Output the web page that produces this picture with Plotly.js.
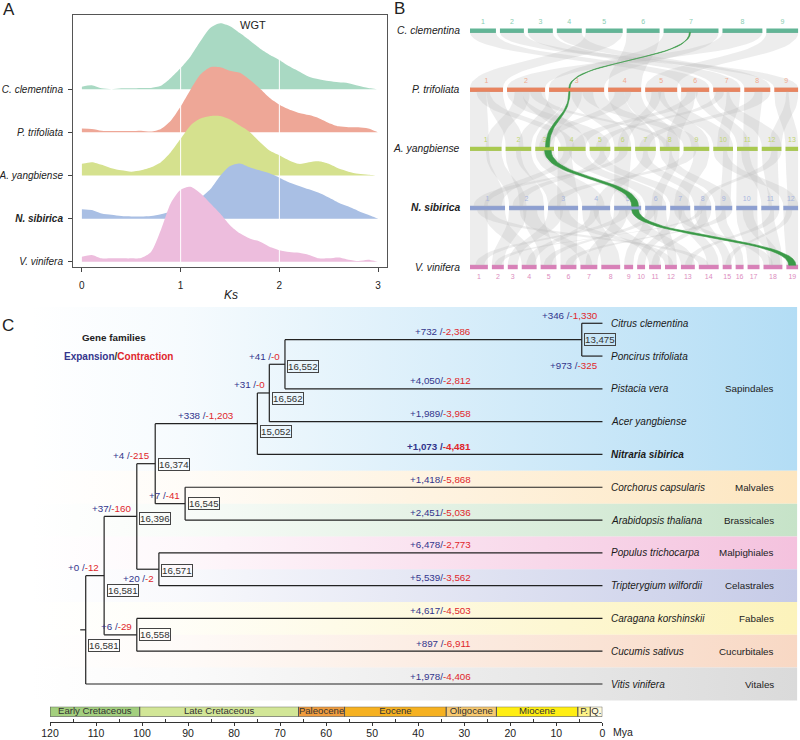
<!DOCTYPE html>
<html><head><meta charset="utf-8">
<script src="https://cdn.plot.ly/plotly-3.0.1.min.js"></script>
<style>body{margin:0;padding:0;background:#fff}#chart{width:800px;height:740px}</style>
</head><body><div id="chart"></div>
<script>
// ================= DATA =================
// ---- Panel A: Ks density ridges ----
const ksValues = [0,0.1,0.2,0.3,0.4,0.5,0.6,0.7,0.8,0.9,1,1.1,1.2,1.3,1.4,1.5,1.6,1.7,1.8,1.9,2,2.1,2.2,2.3,2.4,2.5,2.6,2.7,2.8,2.9,3];
const ridgeSpecies = ['C. clementina','P. trifoliata','A. yangbiense','N. sibirica','V. vinifera'];
const densCc = [0.06,0.09,0.02,0,0.02,0.02,0.03,0.03,0.08,0.26,0.49,0.76,1.11,1.42,1.53,1.46,1.30,1.13,0.95,0.80,0.68,0.53,0.41,0.29,0.23,0.19,0.16,0.14,0.08,0.03,0];
const densPt = [0.09,0.08,0.04,0.03,0.03,0.03,0.04,0.02,0.08,0.27,0.60,0.99,1.34,1.51,1.51,1.43,1.38,1.22,1.02,0.80,0.64,0.53,0.45,0.40,0.33,0.22,0.14,0.12,0.12,0.09,0];
const densAy = [0.27,0.31,0.25,0.17,0.12,0.09,0.12,0.19,0.31,0.54,0.85,1.16,1.32,1.38,1.38,1.30,1.16,1.01,0.78,0.58,0.47,0.35,0.27,0.31,0.33,0.27,0.16,0.09,0.04,0.02,0];
const densNs = [0.22,0.20,0.12,0.09,0.06,0.05,0.05,0.06,0.10,0.16,0.23,0.35,0.48,0.68,0.99,1.22,1.28,1.19,1.12,1.05,0.95,0.84,0.76,0.68,0.60,0.49,0.37,0.28,0.18,0.09,0];
const densVv = [0.12,0.16,0.08,0.08,0.08,0.08,0.09,0.23,0.74,1.36,1.67,1.74,1.59,1.36,1.12,0.85,0.66,0.54,0.47,0.35,0.27,0.23,0.21,0.16,0.08,0.08,0.10,0.05,0.02,0.05,0];
const ksTicks = [0,1,2,3];

// ---- Panel B: synteny ----
const synGenomes = ['C. clementina','P. trifoliata','A. yangbiense','N. sibirica','V. vinifera'];
const lenCc = [26,24,25,25,37,33,55,40,32];
const lenPt = [33,38,55,33,32,28,27,26,24];
const lenAy = [32,26,19,28,21,17,21,20,26,20,21,20,13];
const lenNs = [35,35,30,28,27,21,20,17,17,21,18,15];
const lenVv = [18,12,10,15,16,16,17,19,9,8,12,12,14,20,9,8,12,19,12];
// blocks: [chrA, startFracA, endFracA, chrB, startFracB, endFracB]
const linksCcPt = [[1,0,1,6,0,1],[2,0,1,9,0,1],[3,0,1,7,0,1],[4,0,1,8,0,1],[5,0,1,1,0,1],[6,0,1,4,0,1],[7,0,1,3,0,1],[8,0,1,2,0,1],[9,0,1,5,0,1]];
const linksPtAy = [[1,0,0.5,1,0,0.6],[1,0.5,1,2,0,0.7],[1,0.2,0.6,4,0.1,0.6],[2,0,0.4,5,0,1],[2,0.4,1,4,0.3,1],[2,0.2,0.6,1,0.5,1],[3,0,0.3,2,0.5,1],[3,0.3,0.6,3,0,1],[3,0.6,1,9,0,0.6],[3,0.4,0.8,6,0,1],[4,0,0.5,7,0,1],[4,0.5,1,8,0,1],[4,0.2,0.7,3,0.2,0.8],[5,0,0.6,9,0.3,1],[5,0.4,1,10,0,1],[5,0.2,0.5,6,0.2,0.8],[6,0,0.5,8,0.3,1],[6,0.5,1,11,0,0.6],[6,0.2,0.6,4,0.5,1],[7,0,0.6,12,0,1],[7,0.5,1,10,0.2,0.8],[8,0,0.7,11,0.3,1],[8,0.4,1,7,0.2,0.7],[9,0,0.6,13,0,1],[9,0.5,1,12,0.4,1],[2,0.6,0.9,8,0.2,0.5],[7,0.1,0.4,5,0.3,0.8]];
const linksAyNs = [[1,0,0.6,1,0,1],[1,0.5,1,2,0,0.5],[2,0,0.6,2,0.3,1],[2,0.4,1,3,0,0.6],[3,0,0.7,4,0,0.8],[3,0.4,1,5,0.5,1],[4,0,0.5,3,0.3,1],[4,0.4,1,6,0,1],[4,0.2,0.5,1,0.4,0.9],[5,0,0.7,7,0,1],[5,0.5,1,2,0.1,0.4],[6,0,1,5,0,0.5],[7,0,0.6,8,0,1],[7,0.4,1,4,0.5,1],[8,0,0.6,9,0,1],[8,0.5,1,6,0.3,0.8],[9,0,0.5,3,0,0.4],[9,0.4,1,7,0.2,0.9],[10,0,0.7,12,0,1],[10,0.5,1,9,0.3,0.9],[11,0,1,10,0,1],[11,0.2,0.6,11,0,0.6],[12,0,0.8,11,0.4,1],[12,0.5,1,8,0.3,0.7],[13,0,1,12,0.3,1],[6,0.3,0.8,1,0.1,0.5]];
const linksNsVv = [[1,0,0.5,1,0,1],[1,0.4,1,4,0,1],[1,0.2,0.6,14,0,0.5],[2,0,0.5,2,0,1],[2,0.4,1,5,0,1],[2,0.3,0.8,7,0,0.7],[3,0,0.5,3,0,1],[3,0.4,1,6,0,1],[3,0.2,0.7,12,0,0.7],[4,0,0.6,8,0,1],[4,0.4,1,11,0,1],[4,0.3,0.6,4,0.3,0.9],[5,0,0.5,7,0.3,1],[5,0.4,1,13,0,1],[5,0.2,0.6,1,0.3,0.8],[6,0,0.6,9,0,1],[6,0.4,1,12,0.3,1],[6,0.1,0.5,5,0.2,0.7],[7,0,0.6,10,0,1],[7,0.4,1,14,0.4,1],[7,0.2,0.7,18,0,0.5],[8,0,0.7,15,0,1],[8,0.4,1,11,0.2,0.8],[9,0,0.6,16,0,1],[9,0.4,1,6,0.3,0.8],[10,0,1,17,0,1],[10,0.3,0.8,18,0.3,0.9],[11,0,0.7,18,0.4,1],[11,0.5,1,13,0.3,0.8],[12,0,1,19,0,1],[12,0.2,0.6,15,0.3,0.9],[8,0.2,0.5,2,0.2,0.8]];
// highlighted syntenic path: [pair, chrA, a0, a1, chrB, b0, b1]
const greenPath = [[0,7,0.47,0.49,3,0.36,0.38],[1,3,0.36,0.38,3,0.55,0.75],[2,3,0.5,0.85,5,0.65,0.9],[3,5,0.65,0.9,19,0.2,0.8]];

// ---- Panel C: phylogeny ----
const tipNames = ['Citrus clementina','Poncirus trifoliata','Pistacia vera','Acer yangbiense','Nitraria sibirica','Corchorus capsularis','Arabidopsis thaliana','Populus trichocarpa','Tripterygium wilfordii','Caragana korshinskii','Cucumis sativus','Vitis vinifera'];
const nodeIds = ['n0','n1','n2','n3','n4','n5','n6','n7','n8','n9','n10'];
const nodeAges = [112.3,108.3,101.2,97.2,75.0,72.4,69.0,4.5,90.7,96.4,101.2];
const nodeChildren = [['n1','t11'],['n2','n10'],['n3','n9'],['n4','n8'],['n5','t4'],['n6','t3'],['n7','t2'],['t0','t1'],['t5','t6'],['t7','t8'],['t9','t10']];
const nodeFamilies = ['16,581','16,581','16,396','16,374','15,052','16,562','16,552','13,475','16,545','16,571','16,558'];
const rootEdgeAge = 113.5;
const branchIds = ['n1','n2','n3','n4','n5','n6','n7','n8','n9','n10','t0','t1','t2','t3','t4','t5','t6','t7','t8','t9','t10','t11'];
const branchChanges = ['+0 /-12','+37/-160','+4 /-215','+338 /-1,203','+31 /-0','+41 /-0','+732 /-2,386','+7 /-41','+20 /-2','+6 /-29','+346 /-1,330','+973 /-325','+4,050/-2,812','+1,989/-3,958','+1,073 /-4,481','+1,418/-5,868','+2,451/-5,036','+6,478/-2,773','+5,539/-3,562','+4,617/-4,503','+897 /-6,911','+1,978/-4,406'];
const orders = ['Sapindales','Malvales','Brassicales','Malpighiales','Celastrales','Fabales','Cucurbitales','Vitales'];
const orderFirstTip = [0,5,6,7,8,9,10,11];
const orderLastTip = [4,5,6,7,8,9,10,11];
const periods = ['Early Cretaceous','Late Cretaceous','Paleocene','Eocene','Oligocene','Miocene','P.','Q.'];
const periodStart = [120,100.5,66,56,33.9,23,5.3,2.6];
const periodEnd = [100.5,66,56,33.9,23,5.3,2.6,0];
const timeTicks = [0,10,20,30,40,50,60,70,80,90,100,110,120];
const timeMinorTicks = [5,15,25,35,45,55,65,75,85,95,105,115];

// ================= STYLE =================
const W=800,H=740;
const px=(v)=>v/W, py=(v)=>1-v/H;
const FONT='Liberation Sans, Arial, sans-serif';
const traces=[], ann=[], shapes=[];

// ---------- Panel A ----------
const ridgeData=[densCc,densPt,densAy,densNs,densVv];
const ridgeColors=['#a9d9c3','#eea797','#d5e18e','#a9bfe4','#edbddd'];
ridgeSpecies.forEach((sp,i)=>{
  const base=ridgeSpecies.length-1-i, d=ridgeData[i];
  const xs=ksValues.concat(ksValues.slice().reverse());
  const ys=d.map(v=>base+v).concat(d.map(()=>base));
  traces.push({type:'scatter',x:xs,y:ys,xaxis:'x',yaxis:'y',mode:'lines',fill:'toself',fillcolor:ridgeColors[i],
    line:{width:0,shape:'spline',smoothing:0.7},hoverinfo:'skip',showlegend:false});
});
[1,2].forEach(v=>shapes.push({type:'line',xref:'x',yref:'y',x0:v,x1:v,y0:-0.05,y1:5.6,layer:'above',line:{color:'#ffffff',width:1}}));
const ridgeTickText=ridgeSpecies.map(s=>s==='N. sibirica'?'<b><i>'+s+'</i></b>':'<i>'+s+'</i>');

// ---------- Panel B ----------
const lens=[lenCc,lenPt,lenAy,lenNs,lenVv];
const trackY=[4,3,2,1,0];
const GAP=0.0122;
const spans=lens.map(L=>{const n=L.length,tot=L.reduce((a,b)=>a+b,0),s=(1-GAP*(n-1))/tot;let p=0;return L.map(l=>{const st=p;p+=l*s+GAP;return [st,st+l*s];});});
function ribbonXY(pair,cA,a0,a1,cB,b0,b1){
  const A=spans[pair][cA-1],B=spans[pair+1][cB-1];
  const xa0=A[0]+(A[1]-A[0])*a0,xa1=A[0]+(A[1]-A[0])*a1,xb0=B[0]+(B[1]-B[0])*b0,xb1=B[0]+(B[1]-B[0])*b1;
  const ya=trackY[pair]-0.03,yb=trackY[pair+1]+0.03,ym=(ya+yb)/2;
  const xs=[],ys=[],N=24;
  const bz=(p0,p1,p2,p3,t)=>(1-t)**3*p0+3*(1-t)**2*t*p1+3*(1-t)*t*t*p2+t**3*p3;
  for(let i=0;i<=N;i++){const t=i/N;xs.push(bz(xa0,xa0,xb0,xb0,t));ys.push(bz(ya,ym,ym,yb,t));}
  for(let i=N;i>=0;i--){const t=i/N;xs.push(bz(xa1,xa1,xb1,xb1,t));ys.push(bz(ya,ym,ym,yb,t));}
  xs.push(xs[0]);ys.push(ys[0]);
  return [xs,ys];
}
[linksCcPt,linksPtAy,linksAyNs,linksNsVv].forEach((lst,pair)=>{
  lst.forEach(l=>{const [xs,ys]=ribbonXY(pair,...l);
    traces.push({type:'scatter',x:xs,y:ys,xaxis:'x2',yaxis:'y2',mode:'lines',fill:'toself',fillcolor:'rgba(185,185,185,0.26)',line:{width:0},hoverinfo:'skip',showlegend:false});});
});
const chrColors=['#62b596','#e9845f','#a9c94f','#8d9fd1','#d880b8'];
const numColors=['#8acdb2','#efaa8e','#bfd572','#a8b6df','#dc8cc0'];
spans.forEach((sp,g)=>{
  traces.push({type:'bar',orientation:'h',xaxis:'x2',yaxis:'y2',y:sp.map(()=>trackY[g]),base:sp.map(s=>s[0]),x:sp.map(s=>s[1]-s[0]),
    width:0.075,marker:{color:chrColors[g],line:{width:0}},hoverinfo:'skip',showlegend:false});
  traces.push({type:'scatter',mode:'text',xaxis:'x2',yaxis:'y2',x:sp.map(s=>(s[0]+s[1])/2),y:sp.map(()=>trackY[g]+(g===4?-0.17:0.15)),
    text:sp.map((s,i)=>String(i+1)),textfont:{size:7,color:numColors[g],family:FONT},cliponaxis:false,hoverinfo:'skip',showlegend:false});
});
greenPath.forEach(g=>{const [xs,ys]=ribbonXY(g[0],g[1],g[2],g[3],g[4],g[5],g[6]);
  traces.push({type:'scatter',x:xs,y:ys,xaxis:'x2',yaxis:'y2',mode:'lines',fill:'toself',fillcolor:'#3b9b48',line:{width:0.6,color:'#3b9b48'},hoverinfo:'skip',showlegend:false});});
synGenomes.forEach((s,g)=>ann.push({xref:'paper',yref:'y2',x:px(462),y:trackY[g],xanchor:'right',yanchor:'middle',showarrow:false,
  text:s==='N. sibirica'?'<b><i>'+s+'</i></b>':'<i>'+s+'</i>',font:{size:10.3,color:'#222'}}));

// ---------- Panel C ----------
const isTip=id=>id[0]==='t';
const ageOf=id=>isTip(id)?0:nodeAges[nodeIds.indexOf(id)];
function yOf(id){if(isTip(id))return +id.slice(1);const ch=nodeChildren[nodeIds.indexOf(id)];return (yOf(ch[0])+yOf(ch[ch.length-1]))/2;}
const parentOf={};nodeIds.forEach((id,i)=>nodeChildren[i].forEach(c=>parentOf[c]=id));
// background bands
const bandColors=['179,221,245','253,230,192','198,227,200','244,194,222','198,203,231','252,243,187','248,216,196','218,218,218'];
orders.forEach((o,i)=>{
  const y0=orderFirstTip[i]-0.5,y1=orderLastTip[i]+0.5,xl=-124.4,xr=42.3;
  traces.push({type:'scatter',xaxis:'x3',yaxis:'y3',x:[xl,xr,xr,xl,xl],y:[y0,y0,y1,y1,y0],mode:'lines',fill:'toself',line:{width:0},
    fillcolor:'rgba('+bandColors[i]+',0.5)',
    fillgradient:{type:'horizontal',colorscale:[[0,'rgba('+bandColors[i]+',0)'],[0.2,'rgba('+bandColors[i]+',0.12)'],[1,'rgba('+bandColors[i]+',1)']]},
    hoverinfo:'skip',showlegend:false});
  ann.push({xref:'paper',yref:'y3',x:px(776),y:(orderFirstTip[i]+orderLastTip[i])/2,xanchor:'right',yanchor:'middle',showarrow:false,text:o,font:{size:9.8,color:'#222'}});
});
// tree lines
const tx=[],ty=[];
nodeIds.forEach((id,i)=>{const a=-ageOf(id),ch=nodeChildren[i];
  tx.push(a,a,null);ty.push(yOf(ch[0]),yOf(ch[ch.length-1]),null);
  ch.forEach(c=>{tx.push(a,-ageOf(c),null);ty.push(yOf(c),yOf(c),null);});});
tx.push(-rootEdgeAge,-ageOf('n0'));ty.push(yOf('n0'),yOf('n0'));
traces.push({type:'scatter',xaxis:'x3',yaxis:'y3',x:tx,y:ty,mode:'lines',line:{color:'#222',width:1.2},hoverinfo:'skip',showlegend:false});
// node family boxes
const boxShift={n0:-16,n1:-15,n2:-2,n3:-1,n4:-8,n5:-6,n6:-2,n7:0,n8:0,n9:-1,n10:0};
nodeIds.forEach((id,i)=>ann.push({xref:'x3',yref:'y3',x:-ageOf(id),y:yOf(id),xanchor:'left',yanchor:'middle',xshift:2.5,yshift:boxShift[id],
  showarrow:false,text:nodeFamilies[i],font:{size:9.7,color:'#333'},bordercolor:'#444',borderwidth:1,borderpad:0}));
// branch gain/loss labels
const BLUE='#33358c',RED='#e0262b';
branchIds.forEach((id,i)=>{
  const p=parentOf[id],len=ageOf(p)-ageOf(id),t=branchChanges[i],k=t.indexOf('/');
  let txt='<span style="color:'+BLUE+'">'+t.slice(0,k+1)+'</span><span style="color:'+RED+'">'+t.slice(k+1)+'</span>';
  if(id==='t4')txt='<b>'+txt+'</b>';
  let x,xa;
  if(len>40){x=-28.2;xa='right';}else if(len>15){x=-(ageOf(p)+ageOf(id))/2;xa='center';}else{x=-(ageOf(id)+0.6);xa='right';}
  const below=(id==='n9'||id==='t1');
  ann.push({xref:'x3',yref:'y3',x:x,y:yOf(id),xanchor:xa,yanchor:'middle',yshift:below?-9:8,showarrow:false,text:txt,font:{size:9.8}});
});
// tip labels
tipNames.forEach((n,i)=>ann.push({xref:'x3',yref:'y3',x:0,y:i,xanchor:'left',yanchor:'middle',xshift:6.5,showarrow:false,
  text:n==='Nitraria sibirica'?'<b><i>'+n+'</i></b>':'<i>'+n+'</i>',font:{size:10,color:'#1a1a1a'}}));
// geological timescale
const periodColors=['#a3cf7e','#d2e697','#f09c3e','#f6b120','#f8c96e','#ffee12','#fff387','#fffadc'];
traces.push({type:'bar',orientation:'h',xaxis:'x4',yaxis:'y4',y:periods.map(()=>0),base:periodEnd,x:periodStart.map((s,i)=>s-periodEnd[i]),width:1,
  marker:{color:periodColors,line:{color:'#555',width:1}},hoverinfo:'skip',showlegend:false});
traces.push({type:'scatter',mode:'text',xaxis:'x4',yaxis:'y4',x:periodStart.map((s,i)=>(s+periodEnd[i])/2),y:periods.map(()=>0),text:periods,
  textfont:{size:9.6,color:'#333',family:FONT},cliponaxis:false,hoverinfo:'skip',showlegend:false});

// ---------- text annotations ----------
const C={xanchor:'center',yanchor:'middle',showarrow:false};
ann.push(Object.assign({xref:'paper',yref:'paper',x:px(9),y:py(9.5),text:'A',font:{size:17,color:'#222'}},C));
ann.push(Object.assign({xref:'paper',yref:'paper',x:px(399),y:py(8.5),text:'B',font:{size:17,color:'#222'}},C));
ann.push(Object.assign({xref:'paper',yref:'paper',x:px(8),y:py(325),text:'C',font:{size:17,color:'#222'}},C));
ann.push(Object.assign({xref:'x',yref:'paper',x:1.73,y:py(25),text:'WGT',font:{size:11,color:'#222'}},C));
ann.push(Object.assign({xref:'x',yref:'paper',x:1.51,y:py(295),text:'<i>Ks</i>',font:{size:12,color:'#222'}},C));
ann.push(Object.assign({xref:'paper',yref:'paper',x:px(114),y:py(337),text:'<b>Gene families</b>',font:{size:9.8,color:'#222'}},C));
ann.push(Object.assign({xref:'paper',yref:'paper',x:px(118),y:py(356),text:'<b><span style="color:'+BLUE+'">Expansion</span><span style="color:#333">/</span><span style="color:'+RED+'">Contraction</span></b>',font:{size:10}},C));
ann.push(Object.assign({xref:'paper',yref:'paper',x:px(622.5),y:py(732),text:'Mya',font:{size:10.5,color:'#222'}},C));

const hidden={visible:false,showgrid:false,zeroline:false};
const layout={
  width:W,height:H,margin:{l:0,r:0,t:0,b:0},paper_bgcolor:'#fff',plot_bgcolor:'rgba(0,0,0,0)',
  font:{family:FONT,color:'#222'},showlegend:false,barmode:'overlay',
  xaxis:{domain:[px(73),px(387)],range:[-0.09,3.09],anchor:'y',tickvals:ksTicks,ticks:'outside',ticklen:4,tickcolor:'#444',
    showline:true,mirror:true,linecolor:'#555',linewidth:1,showgrid:false,zeroline:false,tickfont:{size:10,color:'#222'},ticklabelstandoff:5},
  yaxis:{domain:[py(267),py(15)],range:[-0.12,5.72],anchor:'x',tickvals:[4,3,2,1,0],ticktext:ridgeTickText,ticks:'outside',ticklen:4,tickcolor:'#444',
    showline:true,mirror:true,linecolor:'#555',linewidth:1,showgrid:false,zeroline:false,tickfont:{size:10,color:'#222'},ticklabelstandoff:3},
  xaxis2:Object.assign({domain:[px(470),px(798.3)],range:[0,1],anchor:'y2'},hidden),
  yaxis2:Object.assign({domain:[py(285),py(15)],range:[-0.3047,4.2658],anchor:'x2'},hidden),
  xaxis3:Object.assign({domain:[0,1],range:[-130.93,42.93],anchor:'y3'},hidden),
  yaxis3:Object.assign({domain:[py(705),py(300)],range:[11.64,-0.71],anchor:'x3'},hidden),
  xaxis4:{domain:[px(50),px(602.3)],range:[120,0],anchor:'free',position:py(722),tickvals:timeTicks,ticks:'outside',ticklen:3,tickcolor:'#333',
    showline:true,linecolor:'#333',linewidth:1,showgrid:false,zeroline:false,tickfont:{size:10.5,color:'#222'},ticklabelstandoff:-2,
    minor:{tickvals:timeMinorTicks,ticks:'inside',ticklen:3,tickcolor:'#333',showgrid:false}},
  yaxis4:Object.assign({domain:[py(716.7),py(706.7)],range:[-0.5,0.5],anchor:'x4'},hidden),
  annotations:ann,shapes:shapes
};
Plotly.newPlot('chart',traces,layout,{displayModeBar:false,staticPlot:true});
</script></body></html>
